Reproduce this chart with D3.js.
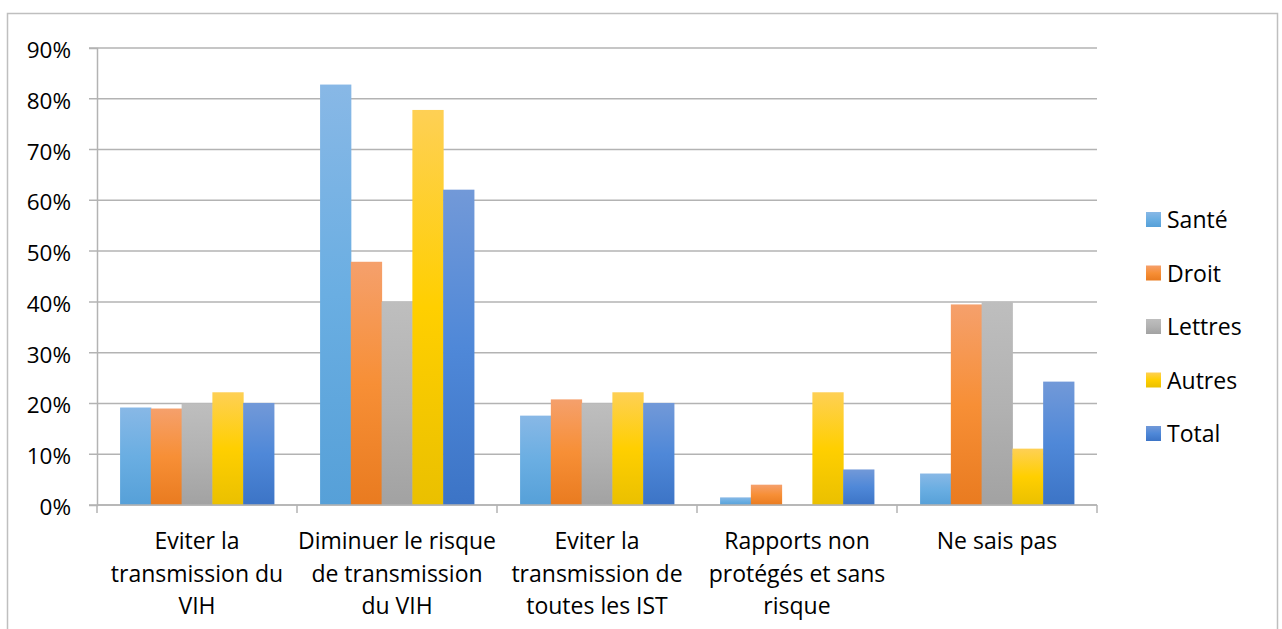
<!DOCTYPE html>
<html>
<head>
<meta charset="utf-8">
<script src="https://cdn.jsdelivr.net/npm/d3@7"></script>
<style>
  body { margin: 0; background: #fff; }
  svg { display: block; font-family: "Open Sans", Lato, sans-serif; }
</style>
</head>
<body>
<div id="chart"></div>
<script>
// categories (already broken into lines as in the original)
var categories = [
  ["Eviter la", "transmission du", "VIH"],
  ["Diminuer le risque", "de transmission", "du VIH"],
  ["Eviter la", "transmission de", "toutes les IST"],
  ["Rapports non", "protégés et sans", "risque"],
  ["Ne sais pas"]
];
var seriesNames = ["Santé", "Droit", "Lettres", "Autres", "Total"];
var sante   = [19.2, 82.8, 17.6, 1.5, 6.2];
var droit   = [19.0, 47.9, 20.8, 4.0, 39.5];
var lettres = [20.0, 40.0, 20.0, 0, 40.0];
var autres  = [22.2, 77.8, 22.2, 22.2, 11.1];
var total   = [20.1, 62.1, 20.1, 7.0, 24.3];
var yTicks = [0, 10, 20, 30, 40, 50, 60, 70, 80, 90];

var values = [sante, droit, lettres, autres, total];
// gradient stops: top, middle, bottom
var colors = [
  ["#88b8e6", "#6aaee2", "#56a0d8"],
  ["#f5a06c", "#f78f36", "#e97b20"],
  ["#bebebe", "#b2b2b2", "#a2a2a2"],
  ["#fed055", "#ffcf00", "#eac000"],
  ["#7299d8", "#4f88d8", "#3c74c6"]
];

var width = 1282, height = 629;
var margin = {top: 48, right: 185, bottom: 124, left: 97};

var svg = d3.select("#chart").append("svg")
  .attr("width", width)
  .attr("height", height);

var defs = svg.append("defs");
colors.forEach(function(c, i) {
  var g = defs.append("linearGradient")
    .attr("id", "grad" + i)
    .attr("x1", 0).attr("y1", 0).attr("x2", 0).attr("y2", 1);
  g.append("stop").attr("offset", "0%").attr("stop-color", c[0]);
  g.append("stop").attr("offset", "50%").attr("stop-color", c[1]);
  g.append("stop").attr("offset", "100%").attr("stop-color", c[2]);
});

// outer frame
svg.append("rect")
  .attr("x", 7.5).attr("y", 13.5)
  .attr("width", 1270).attr("height", 640)
  .attr("fill", "none")
  .attr("stroke", "#bfbfbf")
  .attr("stroke-width", 1.5);

var x0 = d3.scaleBand()
  .domain(d3.range(categories.length))
  .range([margin.left, width - margin.right]);

var x1 = d3.scaleBand()
  .domain(d3.range(seriesNames.length))
  .range([0, x0.bandwidth()])
  .paddingOuter(0.75);

var y = d3.scaleLinear()
  .domain([0, 90])
  .range([height - margin.bottom, margin.top]);

// gridlines
svg.append("g")
  .selectAll("line")
  .data(yTicks)
  .join("line")
  .attr("x1", margin.left - 8)
  .attr("x2", width - margin.right)
  .attr("y1", d => y(d))
  .attr("y2", d => y(d))
  .attr("stroke", "#b3b3b3")
  .attr("stroke-width", 1.5);

// y axis
var yAxis = svg.append("g")
  .attr("transform", `translate(${margin.left},0)`)
  .call(d3.axisLeft(y).tickValues(yTicks).tickFormat(d => d + "%").tickSize(8).tickPadding(18));
yAxis.select(".domain").attr("stroke", "#b3b3b3").attr("stroke-width", 1.5);
yAxis.selectAll(".tick line").remove();
yAxis.selectAll("text")
  .attr("font-size", 22.5)
  .attr("fill", "#000")
  .attr("font-family", "'Open Sans', sans-serif")
  .attr("dy", "0.42em");

// bars
values.forEach(function(vals, s) {
  svg.append("g")
    .selectAll("rect")
    .data(vals)
    .join("rect")
    .attr("x", (d, i) => x0(i) + x1(s))
    .attr("width", x1.bandwidth() + 0.5)
    .attr("y", d => y(d))
    .attr("height", d => y(0) - y(d))
    .attr("fill", "url(#grad" + s + ")");
});

// x axis line and ticks
svg.append("line")
  .attr("x1", margin.left).attr("x2", width - margin.right)
  .attr("y1", y(0)).attr("y2", y(0))
  .attr("stroke", "#b3b3b3").attr("stroke-width", 1.5);
svg.append("g")
  .selectAll("line")
  .data(d3.range(categories.length + 1))
  .join("line")
  .attr("x1", d => margin.left + d * x0.step())
  .attr("x2", d => margin.left + d * x0.step())
  .attr("y1", y(0))
  .attr("y2", y(0) + 8)
  .attr("stroke", "#b3b3b3").attr("stroke-width", 1.5);

// category labels
var labels = svg.append("g")
  .selectAll("text")
  .data(categories)
  .join("text")
  .attr("text-anchor", "middle")
  .attr("font-size", 23)
  .attr("fill", "#000");
labels.each(function(lines, i) {
  d3.select(this).selectAll("tspan")
    .data(lines)
    .join("tspan")
    .attr("x", x0(i) + x0.bandwidth() / 2)
    .attr("y", (d, k) => 549 + k * 32.5)
    .text(d => d);
});

// legend
var legend = svg.append("g")
  .selectAll("g")
  .data(seriesNames)
  .join("g")
  .attr("transform", (d, i) => `translate(1146,${220 + i * 53.5})`);
legend.append("rect")
  .attr("x", 0).attr("y", -8)
  .attr("width", 15).attr("height", 15)
  .attr("fill", (d, i) => "url(#grad" + i + ")");
legend.append("text")
  .attr("x", 21)
  .attr("y", 0)
  .attr("dy", "0.36em")
  .attr("font-size", 23)
  .attr("fill", "#000")
  .text(d => d);
</script>
</body>
</html>
